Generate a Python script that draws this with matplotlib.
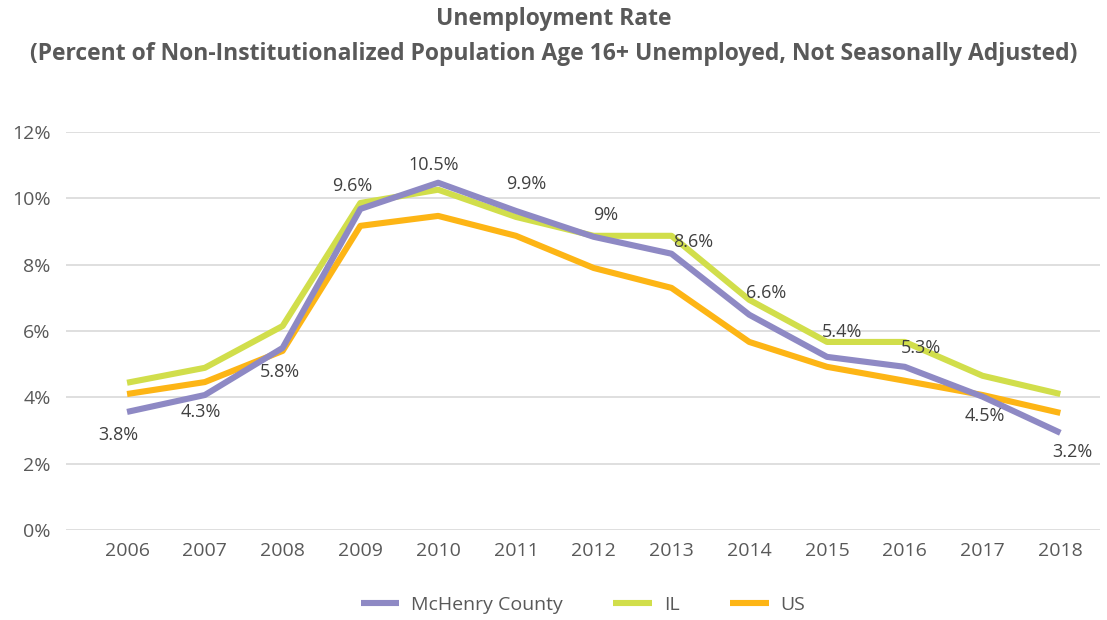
import numpy as np
import matplotlib.pyplot as plt
from matplotlib.ticker import FuncFormatter

years = list(range(2006, 2019))
mchenry = [3.56, 4.07, 5.49, 9.68, 10.47, 9.62, 8.84, 8.33, 6.49, 5.22, 4.92, 4.02, 2.93]
illinois = [4.44, 4.89, 6.15, 9.86, 10.26, 9.44, 8.87, 8.87, 6.94, 5.67, 5.67, 4.65, 4.10]
us = [4.10, 4.46, 5.40, 9.17, 9.47, 8.87, 7.90, 7.30, 5.67, 4.92, 4.50, 4.07, 3.53]
labels = ['3.8%', '4.3%', '5.8%', '9.6%', '10.5%', '9.9%', '9%', '8.6%',
          '6.6%', '5.4%', '5.3%', '4.5%', '3.2%']

# label offsets in pixels from the McHenry point
label_off = [(-9, -23), (-4, -17), (-3, -24), (-8, 23), (-4, 18), (10, 27), (12, 22),
             (22, 12), (17, 22), (15, 25), (16, 19), (2, -19), (12, -19)]

plt.rcParams['font.family'] = ['Open Sans', 'DejaVu Sans']
grey = '#595959'

fig = plt.figure(figsize=(11.07, 6.2), dpi=100)
ax = fig.add_axes([66/1107, 1-530/620, (1100-66)/1107, (530-132)/620])

ax.plot(years, mchenry, color='#8E89C4', lw=4.4, label='McHenry County', solid_capstyle='butt', zorder=3)
ax.plot(years, illinois, color='#D1DE4B', lw=4.4, label='IL', solid_capstyle='butt', zorder=2)
ax.plot(years, us, color='#FDB515', lw=4.4, label='US', solid_capstyle='butt', zorder=2)

for x, y, t, off in zip(years, mchenry, labels, label_off):
    ax.annotate(t, (x, y), xytext=off, textcoords='offset pixels', ha='center', va='center',
                fontsize=13, color='#404040', fontweight='medium', zorder=5)

ax.set_ylim(0, 12)
ax.set_yticks(np.arange(0, 13, 2))
ax.yaxis.set_major_formatter(FuncFormatter(lambda v, p: f'{v:.0f}%'))
ax.set_xlim(2005.215, 2018.51)
ax.set_xticks(years)
ax.grid(axis='y', color='#D9D9D9', lw=1.2)
ax.set_axisbelow(True)
for s in ax.spines.values():
    s.set_visible(False)
ax.tick_params(length=0, labelsize=14, labelcolor=grey)
ax.tick_params(axis='y', pad=11)
ax.tick_params(axis='x', pad=9)

fig.text(0.5, 1-19/620, 'Unemployment Rate', ha='center', va='center',
         fontsize=16.5, fontweight='bold', color=grey)
fig.text(0.5, 1-54/620, '(Percent of Non-Institutionalized Population Age 16+ Unemployed, Not Seasonally Adjusted)',
         ha='center', va='center', fontsize=16.5, fontweight='bold', color=grey)

ax.legend(loc='center', bbox_to_anchor=(0.5, (605-530)/-398), ncol=3, frameon=False,
          fontsize=14, labelcolor=grey, handlelength=2.0, columnspacing=2.6, handletextpad=0.6)

fig.savefig('out.png', dpi=100)
